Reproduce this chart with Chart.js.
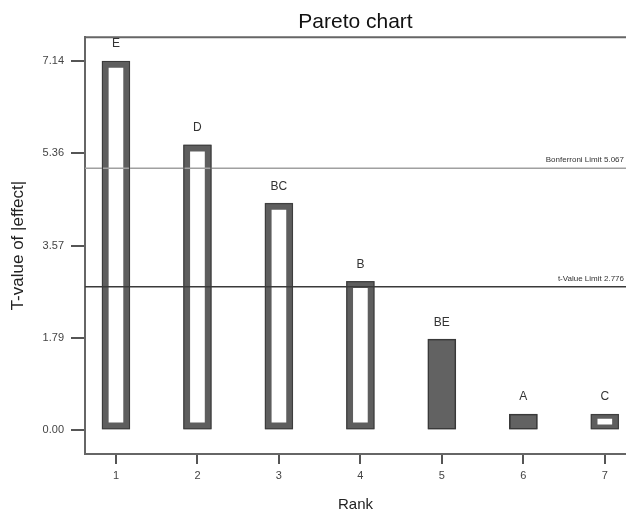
<!DOCTYPE html>
<html>
<head>
<meta charset="utf-8">
<script src="https://cdn.jsdelivr.net/npm/chart.js@4.4.1/dist/chart.umd.min.js"></script>
<style>
  html, body { margin: 0; padding: 0; background: #ffffff; }
  #wrap { width: 626px; height: 514px; }
</style>
</head>
<body>
<div id="wrap"><canvas id="pareto" width="626" height="514"></canvas></div>
<script>
//Rank of each effect (x axis)
const ranks = [1, 2, 3, 4, 5, 6, 7];
//Effect names shown above the bars
const effectNames = ["E", "D", "BC", "B", "BE", "A", "C"];
//T-value of |effect| for each rank
const tValues = [7.14, 5.52, 4.39, 2.88, 1.76, 0.31, 0.31];
//true = positive effect (open bar), false = negative effect (filled bar)
const positiveEffect = [true, true, true, true, false, false, true];
//tick labels on the y axis
const yTicks = [0.0, 1.79, 3.57, 5.36, 7.14];
//limit lines
const bonferroniLimit = 5.067;
const tValueLimit = 2.776;

const fontFamily = "'Liberation Sans', Arial, sans-serif";
const ctx = document.getElementById("pareto");

//draws the top frame line, the two limit lines and the bar labels
const extrasPlugin = {
  id: "extras",
  afterDatasetsDraw(chart) {
    const c = chart.ctx;
    const area = chart.chartArea;
    const yScale = chart.scales.y;
    c.save();
    //top border of the frame
    c.strokeStyle = "#666666";
    c.lineWidth = 2;
    c.beginPath();
    c.moveTo(area.left, area.top);
    c.lineTo(area.right, area.top);
    c.stroke();
    //limit lines
    const limits = [
      { value: bonferroniLimit, text: "Bonferroni Limit " + bonferroniLimit.toFixed(3), color: "#a0a0a0" },
      { value: tValueLimit, text: "t-Value Limit " + tValueLimit.toFixed(3), color: "#3a3a3a" },
    ];
    for (let l of limits) {
      const y = yScale.getPixelForValue(l.value);
      c.strokeStyle = l.color;
      c.lineWidth = 1.5;
      c.beginPath();
      c.moveTo(area.left, y);
      c.lineTo(area.right, y);
      c.stroke();
      c.fillStyle = "#333333";
      c.font = "8px " + fontFamily;
      c.textAlign = "right";
      c.textBaseline = "middle";
      c.fillText(l.text, area.right - 2, y - 8);
    }
    //thin dark outline round every bar, then the label above it
    const meta = chart.getDatasetMeta(0);
    c.strokeStyle = "#3a3a3a";
    c.lineWidth = 1;
    meta.data.forEach((bar) => {
      const half = bar.width / 2;
      c.strokeRect(bar.x - half + 0.5, bar.y + 0.5, bar.width - 1, bar.base - bar.y - 1);
    });
    c.fillStyle = "#333333";
    c.font = "12px " + fontFamily;
    c.textAlign = "center";
    c.textBaseline = "middle";
    meta.data.forEach((bar, i) => {
      c.fillText(effectNames[i], bar.x, bar.y - 17);
    });
    c.restore();
  },
};

let paretoChart = new Chart(ctx, {
  type: "bar",
  plugins: [extrasPlugin],
  data: {
    datasets: [
      {
        data: ranks.map((r, i) => ({ x: r, y: tValues[i] })),
        backgroundColor: positiveEffect.map((p) => (p ? "#ffffff" : "#626262")),
        borderColor: positiveEffect.map((p) => (p ? "#5e5e5e" : "#3a3a3a")),
        // open bars get a thick frame, the short one a slimmer top/bottom
        borderWidth: positiveEffect.map((p, i) =>
          p ? (tValues[i] < 1 ? { left: 7, right: 7, top: 5, bottom: 5 } : 7) : 1.5
        ),
        borderSkipped: false,
        barThickness: 28,
      },
    ],
  },
  options: {
    responsive: false,
    animation: false,
    layout: { padding: { left: 0, right: 0, top: 0, bottom: 0 } },
    plugins: {
      legend: { display: false },
      tooltip: { enabled: false },
      title: {
        display: true,
        text: "Pareto chart",
        color: "#111111",
        fullSize: false,
        font: { family: fontFamily, size: 21, weight: "normal" },
        padding: { top: 10, bottom: 2 },
      },
    },
    scales: {
      x: {
        type: "linear",
        offset: false,
        min: 0.62,
        max: 7.26,
        afterBuildTicks: (scale) => {
          scale.ticks = ranks.map((r) => ({ value: r }));
        },
        afterFit: (scale) => {
          scale.height = 60;
        },
        ticks: {
          color: "#444444",
          padding: 5,
          font: { family: fontFamily, size: 11 },
          callback: (v) => String(v),
        },
        grid: {
          offset: false,
          drawOnChartArea: false,
          drawTicks: true,
          tickLength: 10,
          color: "#555555",
          lineWidth: 2,
        },
        border: { display: true, color: "#666666", width: 2 },
        title: {
          display: true,
          text: "Rank",
          color: "#222222",
          font: { family: fontFamily, size: 15 },
          padding: { top: 0, bottom: 0 },
        },
      },
      y: {
        min: -0.46,
        max: 7.6,
        afterBuildTicks: (scale) => {
          scale.ticks = yTicks.map((v) => ({ value: v }));
        },
        afterFit: (scale) => {
          scale.width = 85;
        },
        ticks: {
          color: "#444444",
          padding: 7,
          font: { family: fontFamily, size: 11 },
          callback: (v) => Number(v).toFixed(2),
        },
        grid: {
          drawOnChartArea: false,
          drawTicks: true,
          tickLength: 14,
          color: "#555555",
          lineWidth: 2,
        },
        border: { display: true, color: "#666666", width: 2 },
        title: {
          display: true,
          text: "T-value of |effect|",
          color: "#222222",
          font: { family: fontFamily, size: 17 },
          padding: { top: 8, bottom: 0 },
        },
      },
    },
  },
});
</script>
</body>
</html>
